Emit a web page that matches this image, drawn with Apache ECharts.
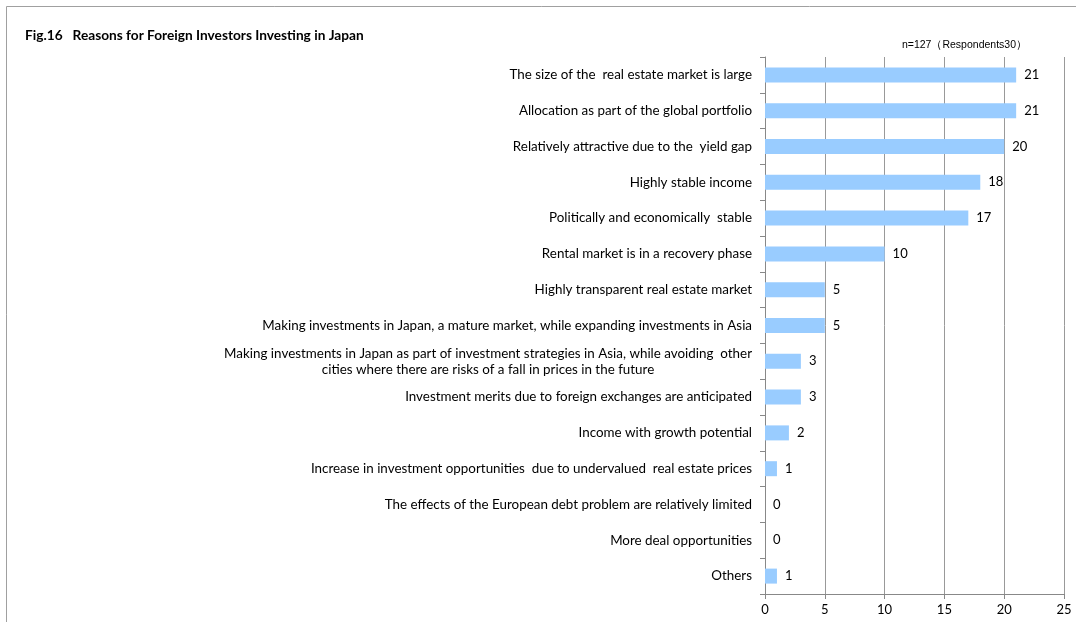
<!DOCTYPE html>
<html>
<head>
<meta charset="utf-8">
<script src="https://cdn.jsdelivr.net/npm/echarts@6/dist/echarts.min.js"></script>
<style>
html,body{margin:0;padding:0;background:#fff;}
#main{width:1076px;height:622px;}
</style>
</head>
<body>
<div id="main"></div>
<script>
const titleText = 'Fig.16   Reasons for Foreign Investors Investing in Japan';
const noteText = 'n=127（Respondents30）';
const categories = [
  'The size of the  real estate market is large',
  'Allocation as part of the global portfolio',
  'Relatively attractive due to the  yield gap',
  'Highly stable income',
  'Politically and economically  stable',
  'Rental market is in a recovery phase',
  'Highly transparent real estate market',
  'Making investments in Japan, a mature market, while expanding investments in Asia',
  'Making investments in Japan as part of investment strategies in Asia, while avoiding  other\ncities where there are risks of a fall in prices in the future',
  'Investment merits due to foreign exchanges are anticipated',
  'Income with growth potential',
  'Increase in investment opportunities  due to undervalued  real estate prices',
  'The effects of the European debt problem are relatively limited',
  'More deal opportunities',
  'Others'
];
const values = [21, 21, 20, 18, 17, 10, 5, 5, 3, 3, 2, 1, 0, 0, 1];
const xTicks = { min: 0, max: 25, interval: 5 };

const chart = echarts.init(document.getElementById('main'), null, { renderer: 'canvas' });
const labelFont = 'Lato, "Noto Sans", sans-serif';
chart.setOption({
  animation: false,
  backgroundColor: '#ffffff',
  title: [
    {
      text: titleText,
      left: 20, top: 24,
      textStyle: { fontFamily: labelFont, fontSize: 13.7, fontWeight: 'bold', color: '#000' }
    },
    {
      text: noteText,
      right: 44, top: 35,
      textStyle: { fontFamily: '"Liberation Sans", Arial, sans-serif', fontSize: 10.5, fontWeight: 'normal', color: '#000' }
    }
  ],
  graphic: [
    {
      type: 'rect',
      shape: { x: 6.5, y: 6.5, width: 1100, height: 700 },
      style: { fill: null, stroke: '#a0a0a0', lineWidth: 1 },
      silent: true
    }
  ],
  grid: { left: 765, right: 12, top: 57, bottom: 28, containLabel: false },
  xAxis: {
    type: 'value',
    min: xTicks.min, max: xTicks.max, interval: xTicks.interval,
    axisLine: { show: true, lineStyle: { color: '#888', width: 1 } },
    axisTick: { show: true, length: 5, lineStyle: { color: '#888' } },
    splitLine: { show: true, showMinLine: true, showMaxLine: true, lineStyle: { color: '#999', width: 1 } },
    axisLabel: { fontFamily: labelFont, fontSize: 13, color: '#000', margin: 9 }
  },
  yAxis: {
    type: 'category',
    inverse: true,
    data: categories,
    axisLine: { show: true, lineStyle: { color: '#888', width: 1 } },
    axisTick: { show: true, length: 5, lineStyle: { color: '#888' } },
    axisLabel: {
      fontFamily: labelFont, fontSize: 13.4, color: '#000', margin: 13, lineHeight: 16,
      formatter: function (v) {
        return v.split('\n').map(function (s) { return '{c|' + s + '}'; }).join('\n');
      },
      rich: { c: { align: 'center', fontFamily: labelFont, fontSize: 13.4, color: '#000', lineHeight: 16 } }
    }
  },
  series: [{
    type: 'bar',
    data: values,
    barWidth: 15,
    itemStyle: { color: '#99ccff' },
    label: {
      show: true, position: 'right', distance: 8,
      fontFamily: labelFont, fontSize: 13, color: '#000'
    }
  }]
});
</script>
</body>
</html>
